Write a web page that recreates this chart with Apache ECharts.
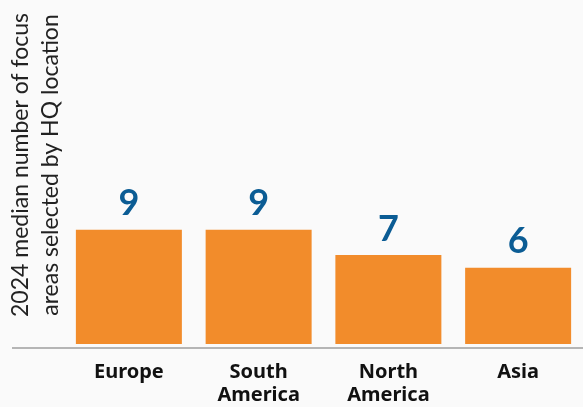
<!DOCTYPE html>
<html>
<head>
<meta charset="utf-8">
<script src="https://cdn.jsdelivr.net/npm/echarts@6/dist/echarts.min.js"></script>
<style>
  html, body { margin: 0; padding: 0; background: #fafafa; }
  #chart { width: 583px; height: 407px; }
</style>
</head>
<body>
<div id="chart"></div>
<script>
var categories = ['Europe', 'South\nAmerica', 'North\nAmerica', 'Asia'];
var values = [9, 9, 7, 6];
var yTitle = '2024 median number of focus\nareas selected by HQ location';

var myChart = echarts.init(document.getElementById('chart'));
var option = {
  backgroundColor: '#fafafa',
  grid: {
    left: 64,
    right: -5,
    top: 90,
    bottom: 59
  },
  xAxis: {
    type: 'category',
    data: categories,
    axisLine: { show: false },
    axisTick: { show: false },
    axisLabel: {
      color: '#111',
      fontFamily: 'Noto Sans',
      fontWeight: 'bold',
      fontSize: 20,
      lineHeight: 23,
      margin: 17
    }
  },
  yAxis: {
    type: 'value',
    min: 0,
    max: 20,
    show: false
  },
  graphic: [
    {
      type: 'line',
      shape: { x1: 12, y1: 348, x2: 583, y2: 348 },
      style: { stroke: '#b5b5b5', lineWidth: 2 },
      z: 10
    },
    {
      type: 'text',
      x: 36,
      y: 165,
      rotation: Math.PI / 2,
      style: {
        text: yTitle,
        fill: '#222',
        fontFamily: 'Lato',
        fontSize: 23,
        lineHeight: 30,
        textAlign: 'center',
        textVerticalAlign: 'middle'
      }
    }
  ],
  series: [
    {
      type: 'bar',
      data: values,
      barWidth: 106,
      itemStyle: { color: '#f28c2b' },
      label: {
        show: true,
        position: 'top',
        distance: 8,
        color: '#0b5c94',
        fontFamily: 'Lato',
        fontWeight: 'bold',
        fontSize: 36
      }
    }
  ]
};
myChart.setOption(option);
</script>
</body>
</html>
